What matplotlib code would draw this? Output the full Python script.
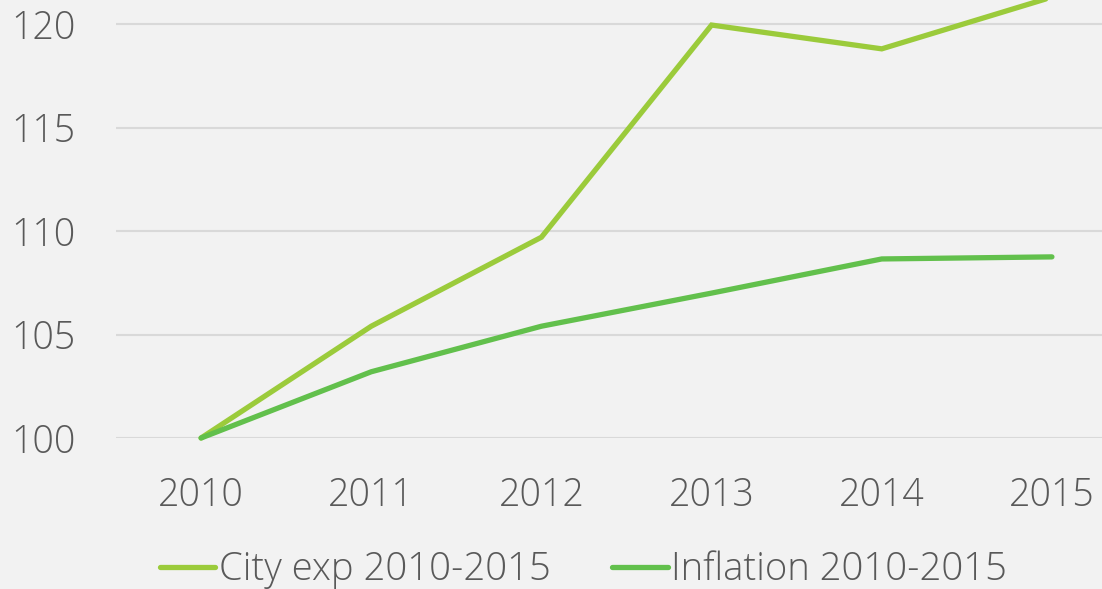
import matplotlib
matplotlib.use("Agg")
import matplotlib.pyplot as plt
from matplotlib import font_manager

years = ["2010", "2011", "2012", "2013", "2014", "2015"]
city_exp = [100.0, 105.4, 109.7, 119.95, 118.8, 121.3]
inflation = [100.0, 103.2, 105.4, 107.0, 108.65, 108.75]
series_names = ["City exp 2010-2015", "Inflation 2010-2015"]
y_ticks = [100, 105, 110, 115, 120]

fam = "Open Sans"
names = {f.name for f in font_manager.fontManager.ttflist}
if fam not in names:
    fam = "DejaVu Sans"
plt.rcParams['font.family'] = [fam, 'DejaVu Sans']

bg = "#f2f2f2"
txt = "#595959"
fig = plt.figure(figsize=(11.02, 5.89), dpi=100, facecolor=bg)
ax = fig.add_axes([116/1102, (589-438)/589, (1137-116)/1102, 438/589])
ax.set_facecolor(bg)

x = list(range(len(years)))
ax.plot(x, city_exp, color="#9BCB3B", lw=3.8, solid_capstyle="round", solid_joinstyle="miter", label=series_names[0], clip_on=False, zorder=3)
ax.plot(x, inflation, color="#62C04C", lw=3.8, solid_capstyle="round", solid_joinstyle="miter", label=series_names[1], clip_on=False, zorder=3)

ax.set_xlim(-0.5, 5.5)
ax.set_ylim(100, 121.16)
ax.set_xticks(x)
ax.set_xticklabels(years)
ax.set_yticks(y_ticks)
ax.set_yticklabels([str(v) for v in y_ticks])
ax.tick_params(length=0, labelsize=27, labelcolor=txt, which="both")
ax.tick_params(axis='y', pad=29)
ax.tick_params(axis='x', pad=27.5)
for lab in ax.get_xticklabels() + ax.get_yticklabels():
    lab.set_fontweight("light")
ax.grid(axis='y', color="#d9d9d9", lw=1.5)
ax.set_axisbelow(True)
for s in ax.spines.values():
    s.set_visible(False)

leg = fig.legend(loc="center left", bbox_to_anchor=(160/1102, 1-570/589), ncol=2, frameon=False,
                 fontsize=27.5, handlelength=1.45, handletextpad=0.1, columnspacing=1.6,
                 borderpad=0, borderaxespad=0)
for t in leg.get_texts():
    t.set_color(txt)
    t.set_fontweight("light")

fig.savefig("out.png", dpi=100, facecolor=bg)
